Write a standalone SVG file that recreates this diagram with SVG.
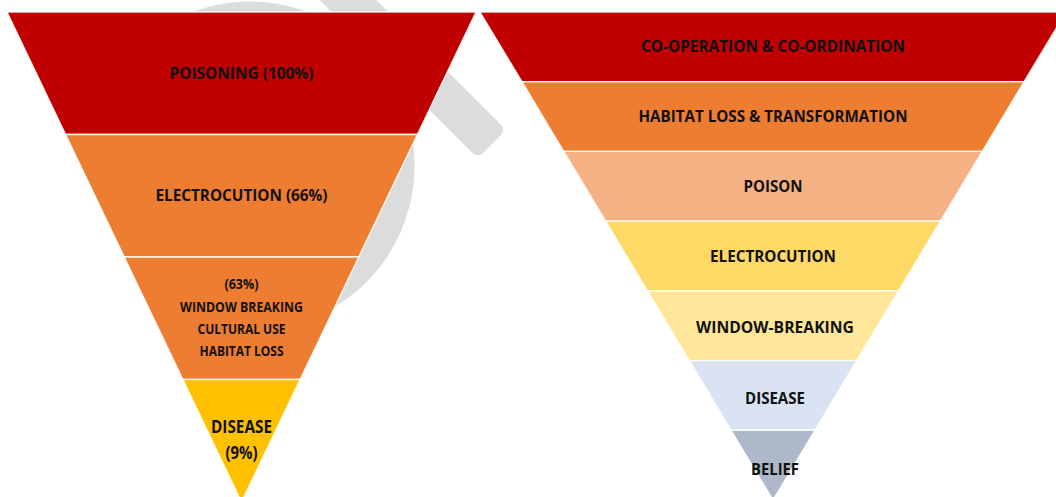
<svg xmlns="http://www.w3.org/2000/svg" width="1056" height="497" viewBox="0 0 1056 497">
  <style>
    .lbl { font-family: "Open Sans", Lato, "Liberation Sans", sans-serif; font-weight: 700; fill: #111; text-anchor: middle; }
    .l17 { font-size: 16.5px; }
    .l14 { font-size: 14px; }
    .l18 { font-size: 17.5px; }
    .seg { stroke: #ffffff; stroke-width: 1.4; stroke-opacity: 0.85; }
  </style>
  <rect width="1056" height="497" fill="#ffffff"/>

  <!-- faint background mark: an open ring and a diagonal bar -->
  <g id="watermark">
    <path d="M104,166 A146,146 0 1 1 275,309.8" fill="none" stroke="#dcdcdc" stroke-width="37"/>
    <rect x="0" y="-20" width="271.5" height="40" rx="7" fill="#dcdcdc" transform="translate(300,-48) rotate(45)"/>
  </g>

  <!-- left funnel: threat ranking with percentages -->
  <g id="left-funnel">
    <g id="l-poisoning">
      <polygon class="seg" fill="#c00000" points="7,12 476,12 417.4,134.5 65.6,134.5"/>
      <text class="lbl l17" x="241.5" y="79" textLength="144" lengthAdjust="spacingAndGlyphs">POISONING (100%)</text>
    </g>
    <g id="l-electrocution">
      <polygon class="seg" fill="#ed7d31" points="65.6,134.5 417.4,134.5 358.75,257 124.25,257"/>
      <text class="lbl l17" x="241.5" y="201" textLength="172" lengthAdjust="spacingAndGlyphs">ELECTROCUTION (66%)</text>
    </g>
    <g id="l-other">
      <polygon class="seg" fill="#ed7d31" points="124.25,257 358.75,257 300.1,379.5 182.9,379.5"/>
      <text class="lbl l14" x="241.5" y="289" textLength="34" lengthAdjust="spacingAndGlyphs">(63%)</text>
      <text class="lbl l14" x="241.5" y="312" textLength="123" lengthAdjust="spacingAndGlyphs">WINDOW BREAKING</text>
      <text class="lbl l14" x="241.5" y="334" textLength="88" lengthAdjust="spacingAndGlyphs">CULTURAL USE</text>
      <text class="lbl l14" x="241.5" y="356" textLength="84" lengthAdjust="spacingAndGlyphs">HABITAT LOSS</text>
    </g>
    <g id="l-disease">
      <polygon class="seg" fill="#ffc000" points="182.9,379.5 300.1,379.5 241.5,502"/>
      <text class="lbl l18" x="241.5" y="433" textLength="61" lengthAdjust="spacingAndGlyphs">DISEASE</text>
      <text class="lbl l18" x="241.5" y="459" textLength="32" lengthAdjust="spacingAndGlyphs">(9%)</text>
    </g>
  </g>

  <!-- right funnel: priority ordering -->
  <g id="right-funnel">
    <g id="r-cooperation">
      <polygon class="seg" fill="#c00000" points="480,12 1066,12 1024.1,81.7 521.9,81.7"/>
      <text class="lbl l17" x="773" y="52" textLength="264" lengthAdjust="spacingAndGlyphs">CO-OPERATION &amp; CO-ORDINATION</text>
    </g>
    <g id="r-habitat">
      <polygon class="seg" fill="#ed7d31" points="521.9,81.7 1024.1,81.7 982.3,151.4 563.7,151.4"/>
      <text class="lbl l17" x="773" y="122" textLength="269" lengthAdjust="spacingAndGlyphs">HABITAT LOSS &amp; TRANSFORMATION</text>
    </g>
    <g id="r-poison">
      <polygon class="seg" fill="#f4b183" points="563.7,151.4 982.3,151.4 940.4,221.1 605.6,221.1"/>
      <text class="lbl l17" x="773" y="192" textLength="59" lengthAdjust="spacingAndGlyphs">POISON</text>
    </g>
    <g id="r-electrocution">
      <polygon class="seg" fill="#ffd966" points="605.6,221.1 940.4,221.1 898.6,290.9 647.4,290.9"/>
      <text class="lbl l17" x="773" y="262" textLength="126" lengthAdjust="spacingAndGlyphs">ELECTROCUTION</text>
    </g>
    <g id="r-window">
      <polygon class="seg" fill="#ffe699" points="647.4,290.9 898.6,290.9 856.7,360.6 689.3,360.6"/>
      <text class="lbl l17" x="775" y="333" textLength="158" lengthAdjust="spacingAndGlyphs">WINDOW-BREAKING</text>
    </g>
    <g id="r-disease">
      <polygon class="seg" fill="#dae3f3" points="689.3,360.6 856.7,360.6 814.9,430.3 731.1,430.3"/>
      <text class="lbl l17" x="775" y="404" textLength="60" lengthAdjust="spacingAndGlyphs">DISEASE</text>
    </g>
    <g id="r-belief">
      <polygon class="seg" fill="#adb9ca" points="731.1,430.3 814.9,430.3 773,500"/>
      <text class="lbl l17" x="775" y="475" textLength="48" lengthAdjust="spacingAndGlyphs">BELIEF</text>
    </g>
  </g>
</svg>
